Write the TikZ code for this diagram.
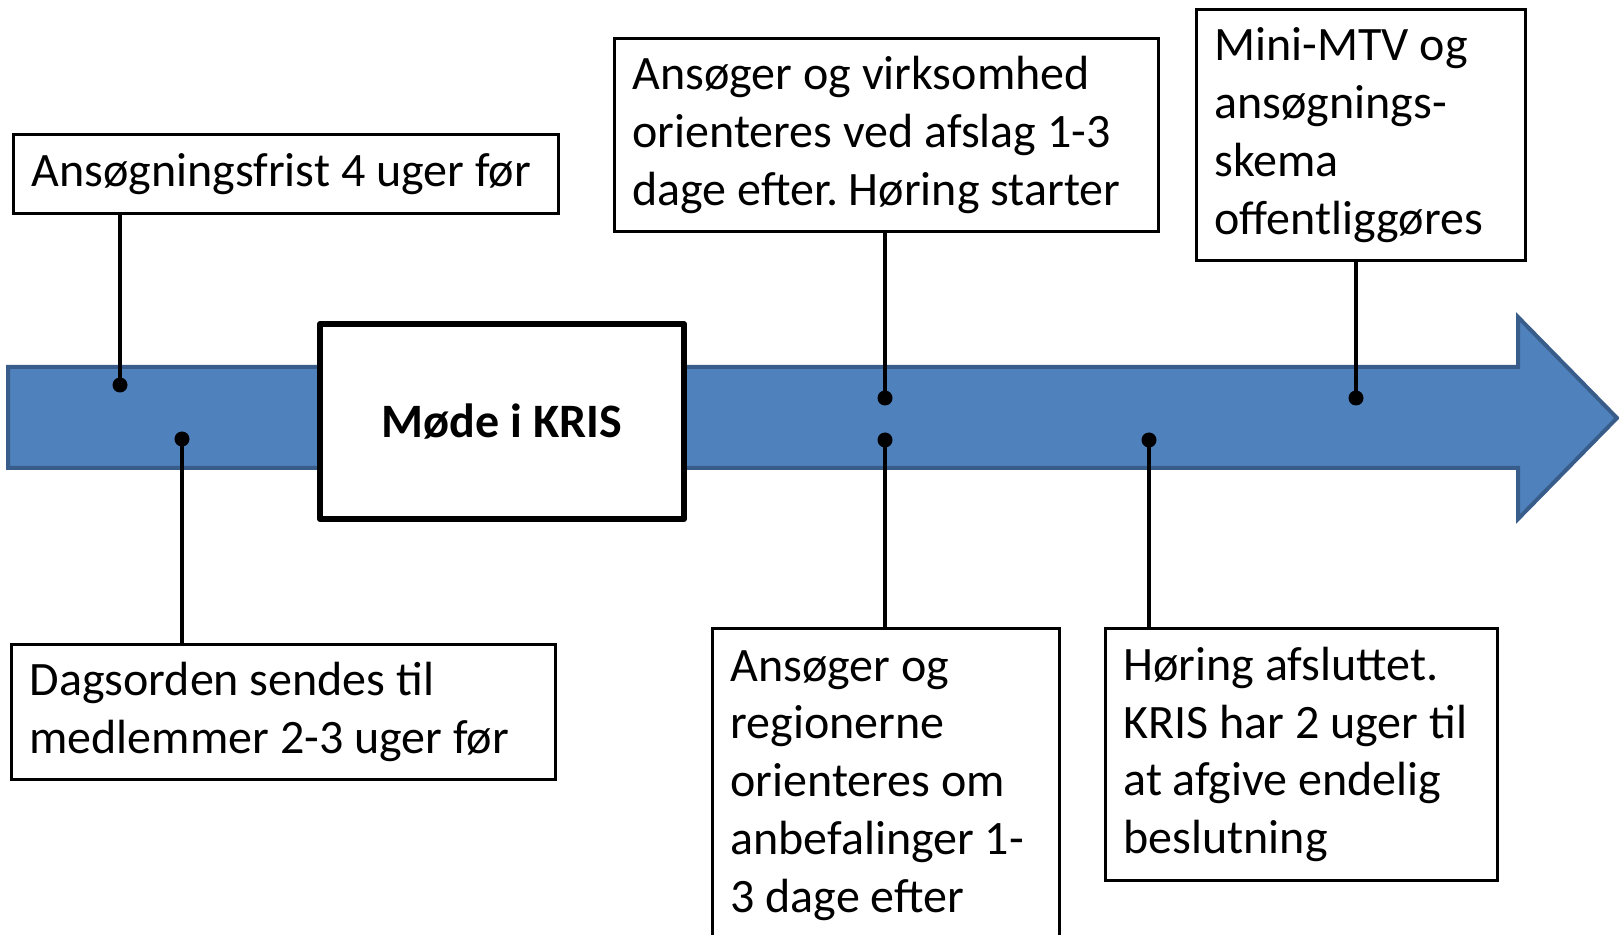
\documentclass[tikz,border=0pt]{standalone}
\usepackage{fontspec}
\setmainfont{Carlito}
\usepackage{xcolor}
\usepackage{tikz}
\usetikzlibrary{positioning}
\definecolor{TLBlue}{HTML}{4F81BD}
\definecolor{TLEdge}{HTML}{385D8A}
\newcommand{\boxfont}{\fontsize{24}{28.9}\selectfont}
\frenchspacing

\begin{document}
\begin{tikzpicture}[
        x=0.5pt,y=-0.5pt,
        every node/.style={font=\boxfont},
        infobox/.style={draw=black,line width=1.5pt,fill=white,anchor=north west,align=flush left,inner xsep=9pt,inner ysep=0pt,
          execute at begin node={\spaceskip=0.226em plus 0.1em minus 0.05em\relax}},
        meeting/.style={draw=black,line width=3pt,line join=round,fill=white,anchor=north west,align=center,inner sep=0pt,minimum width=182pt,minimum height=97.5pt,font=\boxfont\bfseries},
        dot/.style={circle,fill=black,inner sep=0pt,minimum size=7.5pt},
        stem/.style={line width=2pt,draw=black}
      ]
      \useasboundingbox (0,0) rectangle (1619,935);
      \clip (0,0) rectangle (1619,935);

      % timeline arrow
      \draw[fill=TLBlue,draw=TLEdge,line width=2pt]
        (8,367) -- (1518,367) -- (1518,317) -- (1617,418) -- (1518,519) -- (1518,468) -- (8,468) -- cycle;

      \node[meeting] (kris) at (317,321) {Møde i KRIS};

      \node[dot] (d1) at (120,385) {};
      \node[dot] (d2) at (182,439) {};
      \node[dot] (d3) at (885,398) {};
      \node[dot] (d4) at (885,440) {};
      \node[dot] (d5) at (1149,440) {};
      \node[dot] (d6) at (1356,398) {};

      \node[infobox,text width=254.5pt,minimum width=272.5pt,minimum height=39.5pt] (frist) at (12,133) {Ansøgningsfrist 4 uger før};
      \node[infobox,text width=254pt,minimum width=272pt,minimum height=67.5pt] (dagsorden) at (10,643) {Dagsorden sendes til\\medlemmer 2-3 uger før};
      \node[infobox,text width=254pt,minimum width=272pt,minimum height=96.5pt] (afslag) at (613,37) {Ansøger og virksomhed\\orienteres ved afslag 1-3\\dage efter. Høring starter};
      \node[infobox,text width=155.5pt,minimum width=173.5pt,minimum height=157pt] (anbef) at (711,627) {Ansøger og\\regionerne\\orienteres om\\anbefalinger 1-\\3 dage efter};
      \node[infobox,text width=178pt,minimum width=196pt,minimum height=126pt] (hoering) at (1104,627) {Høring afsluttet.\\KRIS har 2 uger til\\at afgive endelig\\beslutning};
      \node[infobox,text width=146.5pt,minimum width=164.5pt,minimum height=125.5pt] (mtv) at (1195,8) {Mini-MTV og\\ansøgnings-\\skema\\offentliggøres};

      \draw[stem] (frist.south -| d1) -- (d1.center);
      \draw[stem] (d2.center) -- (dagsorden.north -| d2);
      \draw[stem] (afslag.south -| d3) -- (d3.center);
      \draw[stem] (d4.center) -- (anbef.north -| d4);
      \draw[stem] (d5.center) -- (hoering.north -| d5);
      \draw[stem] (mtv.south -| d6) -- (d6.center);
    \end{tikzpicture}
\end{document}
